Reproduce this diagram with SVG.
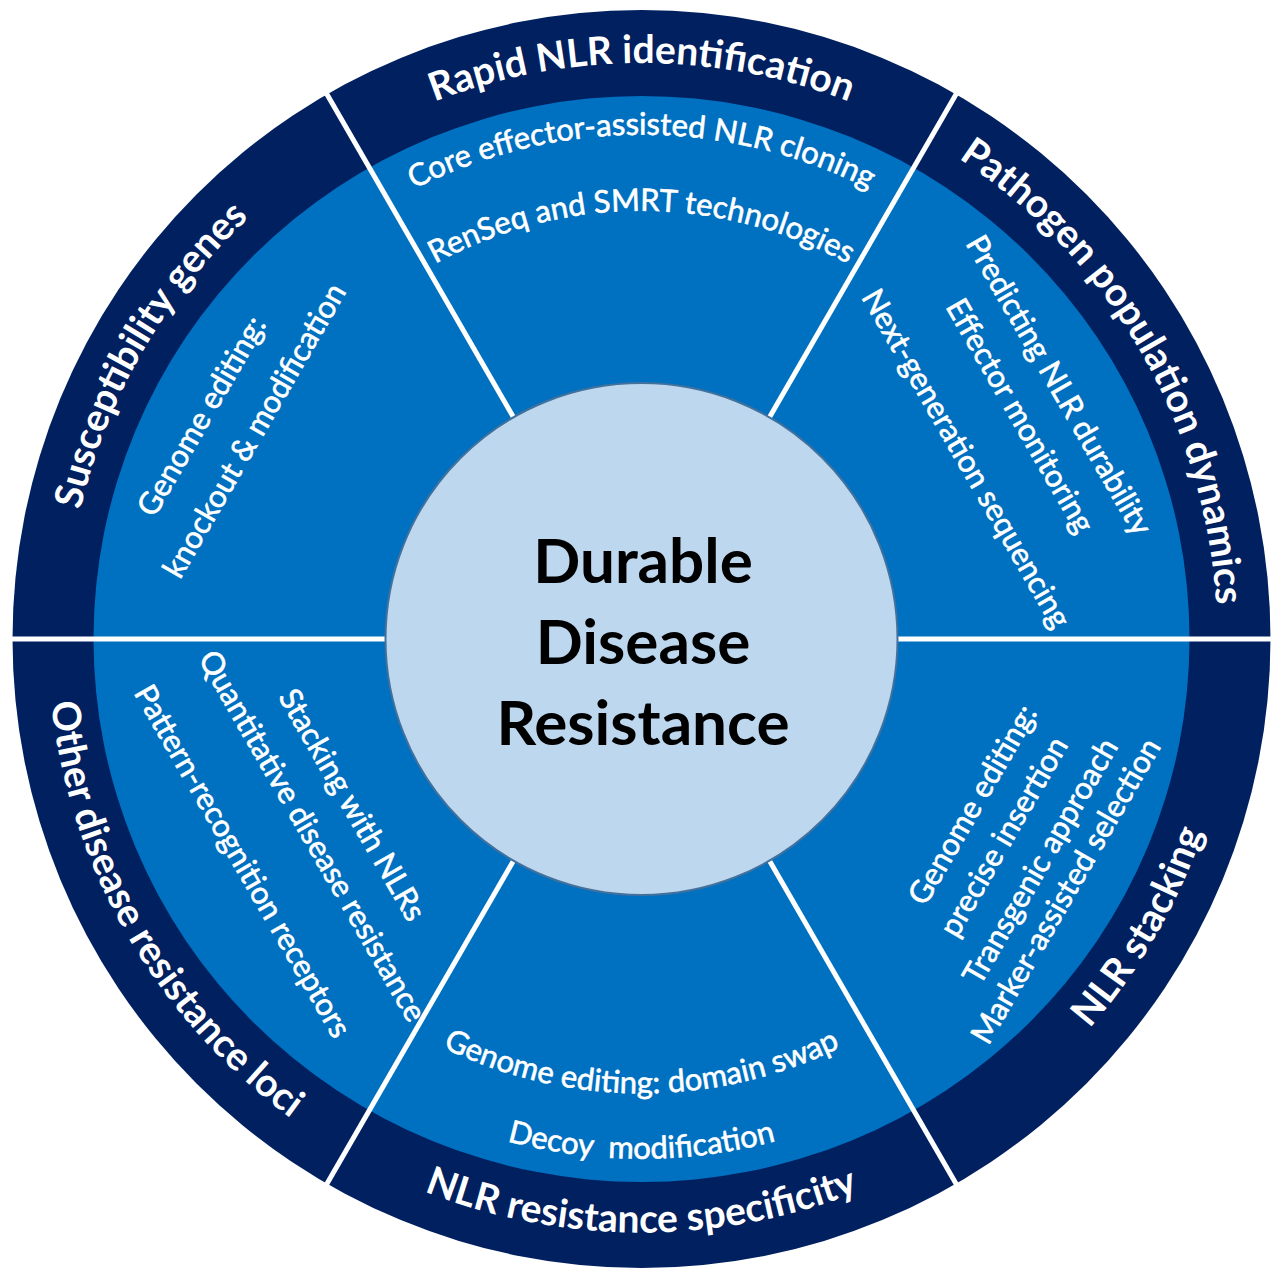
<svg xmlns="http://www.w3.org/2000/svg" width="1277" height="1269" viewBox="0 0 1277 1269">
<style>
.title{font-family:Lato,"Open Sans",sans-serif;font-weight:700;font-size:39px;fill:#ffffff}
.item{font-family:Lato,"Open Sans",sans-serif;font-weight:400;font-size:31px;fill:#ffffff;stroke:#ffffff;stroke-width:0.6px}
.center{font-family:Lato,"Open Sans",sans-serif;font-weight:700;font-size:62px;fill:#000000}
.div{stroke:#ffffff;stroke-width:5;fill:none}
</style>
<defs>
<path id="tTop" d="M67.7,588.8 A576,576 0 0 1 1215.3,588.8"/>
<path id="tUR" d="M398.1,117 A576,576 0 0 1 971.9,1110.8"/>
<path id="tUL" d="M311.1,1110.8 A576,576 0 0 1 884.9,117"/>
<path id="tBot" d="M49.8,690.8 A594,594 0 0 0 1233.2,690.8"/>
<path id="tLL" d="M300.8,152.4 A594,594 0 0 0 892.5,1177.3"/>
<path id="tLR" d="M390.5,1177.3 A594,594 0 0 0 982.2,152.4"/>
<path id="iTop1" d="M139.4,595.1 A504,504 0 0 1 1143.6,595.1"/>
<path id="iTop2" d="M215.1,601.9 A428,428 0 0 1 1067.9,601.9"/>
<path id="iBot1" d="M189.2,678.6 A454,454 0 0 0 1093.8,678.6"/>
<path id="iBot2" d="M123.5,684.3 A520,520 0 0 0 1159.5,684.3"/>
</defs>
<rect width="1277" height="1269" fill="#ffffff"/>
<circle cx="641.5" cy="639" r="629" fill="#002060"/>
<ellipse cx="641.5" cy="639" rx="548" ry="543" fill="#0070C0"/>
<g id="dividers">
<line class="div" x1="897.5" y1="639" x2="1275" y2="639"/>
<line class="div" x1="769.5" y1="417.3" x2="958.5" y2="90"/>
<line class="div" x1="513.5" y1="417.3" x2="324.5" y2="90"/>
<line class="div" x1="385.5" y1="639" x2="8" y2="639"/>
<line class="div" x1="513.5" y1="860.7" x2="324.5" y2="1188"/>
<line class="div" x1="769.5" y1="860.7" x2="958.5" y2="1188"/>
</g>
<g id="hub">
<circle cx="641.5" cy="639" r="256" fill="#BDD7EE" stroke="#41719C" stroke-width="2"/>
<text class="center" x="643" y="583" text-anchor="middle">Durable</text>
<text class="center" x="643" y="664" text-anchor="middle">Disease</text>
<text class="center" x="643" y="745" text-anchor="middle">Resistance</text>
</g>
<g id="rapid-nlr-identification">
<text class="title" text-anchor="middle"><textPath href="#tTop" startOffset="50%">Rapid NLR identification</textPath></text>
<text class="item" text-anchor="middle"><textPath href="#iTop1" startOffset="50%">Core effector-assisted NLR cloning</textPath></text>
<text class="item" text-anchor="middle"><textPath href="#iTop2" startOffset="50%">RenSeq and SMRT technologies</textPath></text>
</g>
<g id="pathogen-population-dynamics">
<text class="title" text-anchor="middle"><textPath href="#tUR" startOffset="50%">Pathogen population dynamics</textPath></text>
<g transform="translate(641.5,639) rotate(60)">
<text class="item" x="-11" y="-478" text-anchor="middle">Predicting NLR durability</text>
<text class="item" x="-4" y="-429" text-anchor="middle">Effector monitoring</text>
<text class="item" x="6" y="-361" text-anchor="middle">Next-generation sequencing</text>
</g>
</g>
<g id="nlr-stacking">
<text class="title" text-anchor="middle"><textPath href="#tLR" startOffset="50%">NLR stacking</textPath></text>
<g transform="translate(641.5,639) rotate(-60)">
<text class="item" x="22" y="380" text-anchor="middle">Genome editing:</text>
<text class="item" x="10" y="423" text-anchor="middle">precise insertion</text>
<text class="item" x="7" y="467" text-anchor="middle">Transgenic approach</text>
<text class="item" x="-6" y="504" text-anchor="middle">Marker-assisted selection</text>
</g>
</g>
<g id="nlr-resistance-specificity">
<text class="title" text-anchor="middle"><textPath href="#tBot" startOffset="50%">NLR resistance specificity</textPath></text>
<text class="item" text-anchor="middle"><textPath href="#iBot1" startOffset="50%">Genome editing: domain swap</textPath></text>
<text class="item" text-anchor="middle" xml:space="preserve"><textPath href="#iBot2" startOffset="50%">Decoy  modification</textPath></text>
</g>
<g id="other-disease-resistance-loci">
<text class="title" text-anchor="middle"><textPath href="#tLL" startOffset="50%">Other disease resistance loci</textPath></text>
<g transform="translate(641.5,639) rotate(60)">
<text class="item" x="-1" y="344" text-anchor="middle">Stacking with NLRs</text>
<text class="item" x="6" y="394" text-anchor="middle">Quantitative disease resistance</text>
<text class="item" x="-7" y="467" text-anchor="middle">Pattern-recognition receptors</text>
</g>
</g>
<g id="susceptibility-genes">
<text class="title" text-anchor="middle"><textPath href="#tUL" startOffset="50%">Susceptibility genes</textPath></text>
<g transform="translate(641.5,639) rotate(-60)">
<text class="item" x="-27" y="-482" text-anchor="middle">Genome editing:</text>
<text class="item" x="-13" y="-429" text-anchor="middle">knockout &amp; modification</text>
</g>
</g>
</svg>
